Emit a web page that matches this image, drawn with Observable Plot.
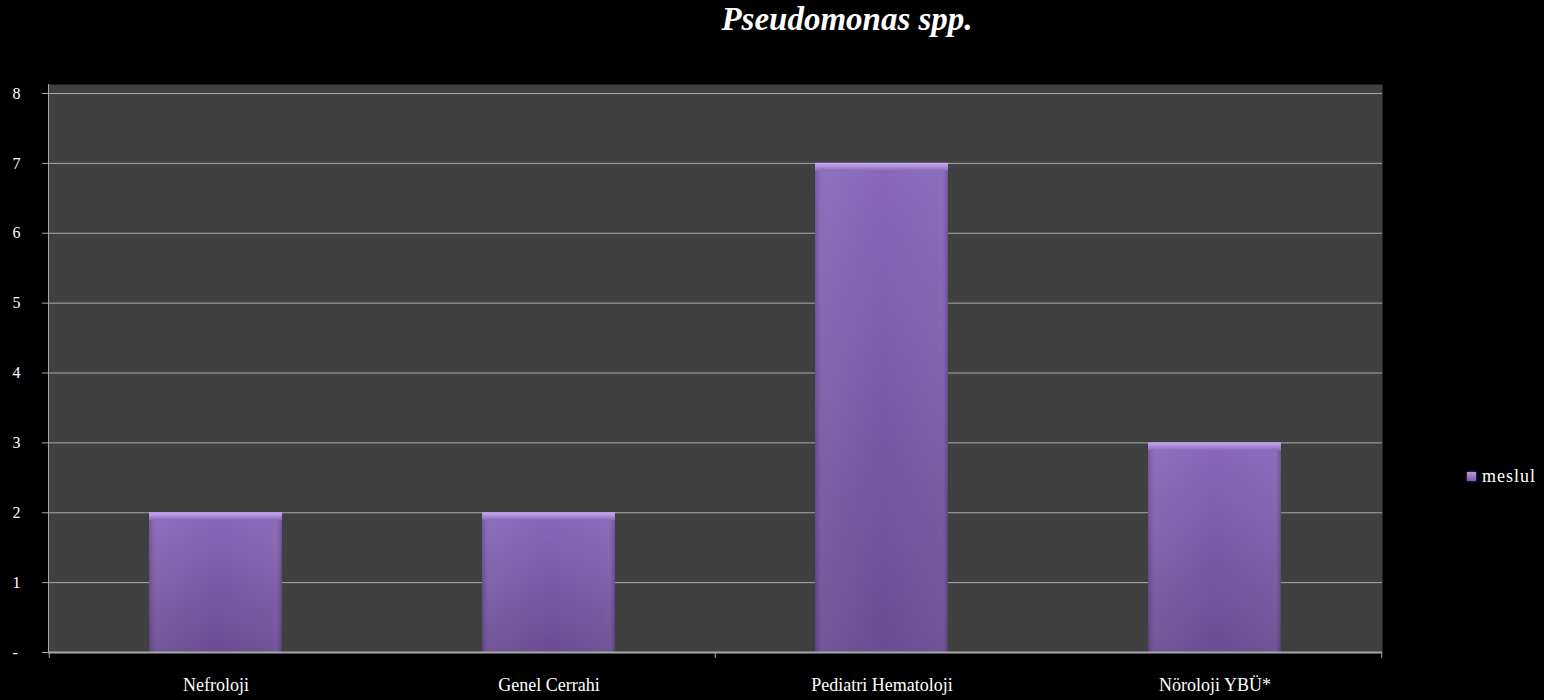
<!DOCTYPE html>
<html>
<head>
<meta charset="utf-8">
<script src="https://cdn.jsdelivr.net/npm/d3@7"></script>
<script src="https://cdn.jsdelivr.net/npm/@observablehq/plot@0.6"></script>
<style>
  html, body { margin: 0; padding: 0; background: #000; }
  #wrap { position: relative; width: 1544px; height: 700px; overflow: hidden; background: #000; }
  #title { height: 40px; width: 1544px; box-sizing: border-box; padding-left: 150px; padding-top: 4px; text-align: center;
    font-family: "Liberation Serif", "DejaVu Serif", serif; font-weight: bold; font-style: italic;
    font-size: 33px; color: #fff; line-height: 30px; overflow: visible; white-space: nowrap; }
  #legend { position: absolute; left: 1467px; top: 466px; font-family: "Liberation Serif", serif;
    font-size: 18px; letter-spacing: 1px; color: #fff; display: flex; align-items: center; gap: 6px; white-space: nowrap; }
  #legend .sw { width: 9px; height: 9px; background: linear-gradient(#b49ae0, #7a5aa8); box-shadow: 0 0 3px #6b4d93; }
  svg { display: block; }
</style>
</head>
<body>
<div id="wrap">
  <div id="title">Pseudomonas spp.</div>
  <div id="legend"><span class="sw"></span><span>meslul</span></div>
</div>
<script>
const categories = ["Nefroloji", "Genel Cerrahi", "Pediatri Hematoloji", "Nöroloji YBÜ*"];
const values = [2, 2, 7, 3];
const yTicks = [0, 1, 2, 3, 4, 5, 6, 7, 8];
const seriesName = "meslul";

const data = categories.map((c, i) => ({category: c, value: values[i]}));
const boundaryTicks = [
  {category: categories[0], side: -1},
  {category: categories[2], side: -1},
  {category: categories[3], side: 1}
];

const chart = Plot.plot({
  width: 1544,
  height: 660,
  marginTop: 44,
  marginBottom: 48,
  marginLeft: 48,
  marginRight: 162,
  style: {background: "#000", color: "#fff", fontFamily: "'Liberation Serif', serif"},
  x: {domain: categories, paddingInner: 0.6, paddingOuter: 0.3, label: null},
  y: {domain: [0, 8], insetTop: 9, label: null},
  marks: [
    Plot.frame({fill: "#404040", stroke: null}),
    Plot.ruleY(yTicks.filter(d => d > 0), {stroke: "#a8a8a8", strokeWidth: 1}),
    Plot.axisY({ticks: yTicks, tickSize: 6, stroke: "#a8a8a8", tickPadding: 30,
      tickFormat: d => d === 0 ? "-" : String(d), fontSize: 16, fill: "#fff", textAnchor: "start"}),
    Plot.frame({anchor: "left", stroke: "#a8a8a8"}),
    Plot.barY(data, {x: "category", y: "value", fill: "url(#barGrad)"}),
    Plot.barY(data, {x: "category", y: "value", fill: "url(#sideGrad)"}),
    Plot.barY(data, {x: "category", y1: "value", y2: "value", insetBottom: -8, fill: "url(#bevelGrad)"}),
    Plot.ruleY([0], {stroke: "#a8a8a8", strokeWidth: 2}),
    Plot.ruleX(boundaryTicks.filter(d => d.side < 0), {x: "category", y1: 0, y2: 0, dx: -166.75, insetBottom: -6, stroke: "#a8a8a8"}),
    Plot.ruleX(boundaryTicks.filter(d => d.side > 0), {x: "category", y1: 0, y2: 0, dx: 166.75, insetBottom: -6, stroke: "#a8a8a8"}),
    Plot.axisX({tickSize: 0, tickPadding: 26, fontSize: 18, fill: "#fff", style: {letterSpacing: "1.5px"}})
  ]
});

const defs = d3.create("svg:defs");
const g1 = defs.append("linearGradient").attr("id", "barGrad").attr("x1", 0).attr("y1", 0).attr("x2", 0).attr("y2", 1);
g1.append("stop").attr("offset", "0%").attr("stop-color", "#8a67bb");
g1.append("stop").attr("offset", "100%").attr("stop-color", "#6a4c93");
const g3 = defs.append("linearGradient").attr("id", "sideGrad").attr("x1", 0).attr("y1", 0).attr("x2", 1).attr("y2", 0);
g3.append("stop").attr("offset", "0%").attr("stop-color", "#000").attr("stop-opacity", 0.15);
g3.append("stop").attr("offset", "6%").attr("stop-color", "#fff").attr("stop-opacity", 0.06);
g3.append("stop").attr("offset", "50%").attr("stop-color", "#fff").attr("stop-opacity", 0);
g3.append("stop").attr("offset", "94%").attr("stop-color", "#fff").attr("stop-opacity", 0.04);
g3.append("stop").attr("offset", "100%").attr("stop-color", "#000").attr("stop-opacity", 0.2);
const g2 = defs.append("linearGradient").attr("id", "bevelGrad").attr("x1", 0).attr("y1", 0).attr("x2", 0).attr("y2", 1);
g2.append("stop").attr("offset", "0%").attr("stop-color", "#c8aef2");
g2.append("stop").attr("offset", "100%").attr("stop-color", "#8a67bb");
chart.insertBefore(defs.node(), chart.firstChild);

document.getElementById("wrap").appendChild(chart);
</script>
</body>
</html>
